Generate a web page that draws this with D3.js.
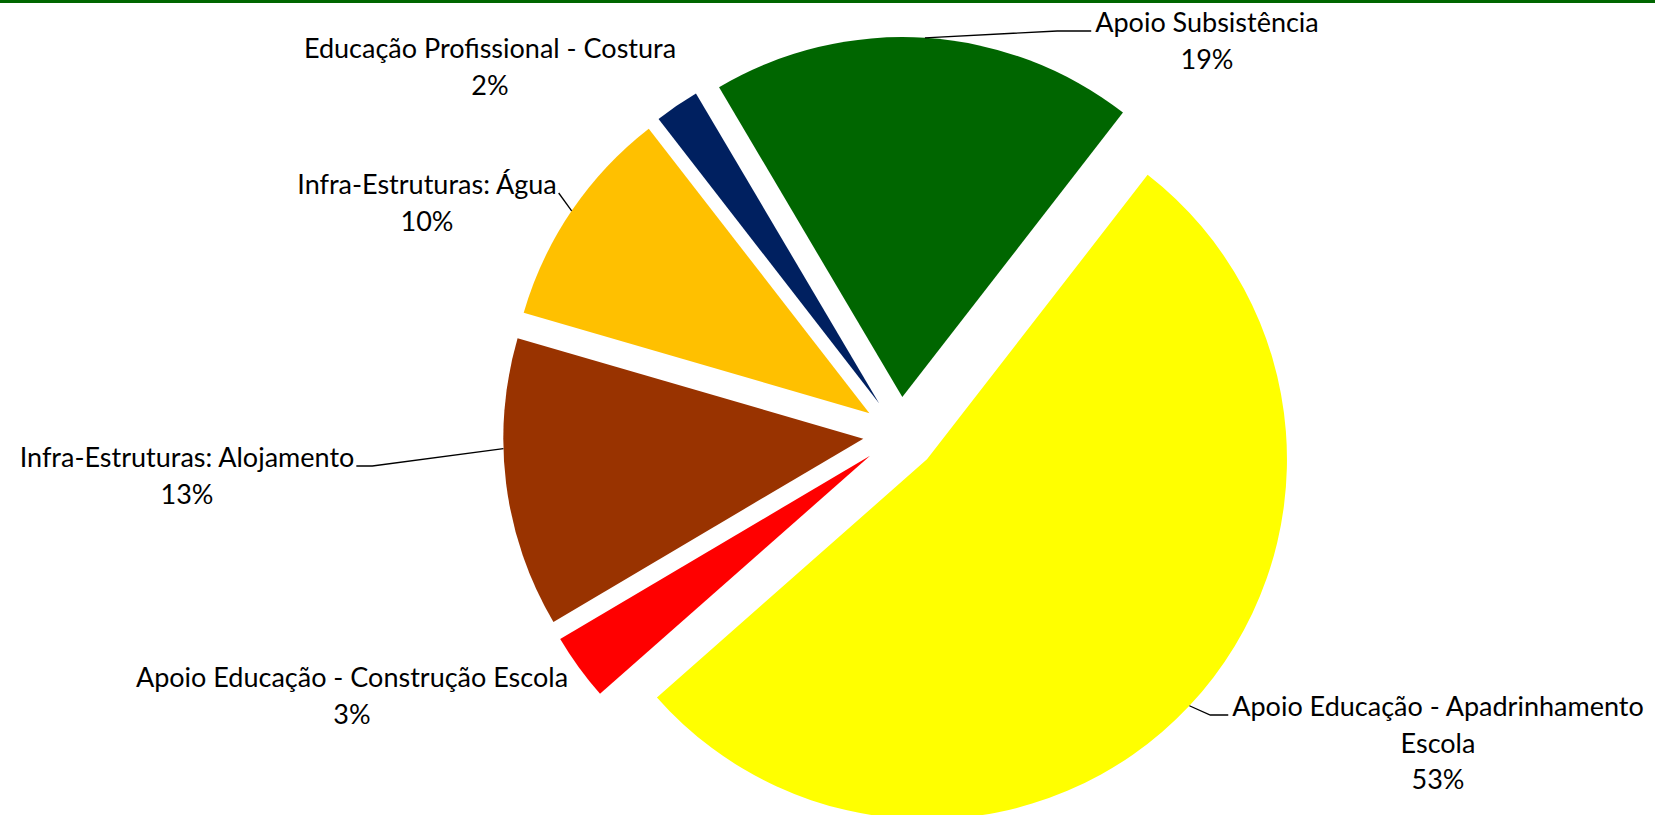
<!DOCTYPE html>
<html>
<head>
<meta charset="utf-8">
<script src="https://cdn.jsdelivr.net/npm/d3@7"></script>
<style>
  html, body { margin: 0; padding: 0; background: #fff; }
  svg { display: block; }
</style>
</head>
<body>
<div class="chart"></div>
<script>

// data, in clockwise order starting from the green slice
var categories = [
    ["Apoio Subsistência"],
    ["Apoio Educação - Apadrinhamento", "Escola"],
    ["Apoio Educação - Construção Escola"],
    ["Infra-Estruturas: Alojamento"],
    ["Infra-Estruturas: Água"],
    ["Educação Profissional - Costura"]
];
var values = [19, 53, 3, 13, 10, 2];
var colours = ["#006600", "#ffff00", "#ff0000", "#993300", "#ffc000", "#002060"];

// label placement relative to the pie centre (x = text centre, y = first baseline)
var labelPos = [[307, -402], [538, 282], [-548, 253], [-713, 33], [-473, -240], [-410, -376]];
var leaderSide = ["left", "left", null, "right", "right", null];
var leaderElbow = [34, 18, 0, 16, 0, 0];
// where the leader meets the slice, as a fraction of the slice's angle
var leaderAt = [0.5, 0.5, 0.5, 0.62, 0.5, 0.5];

var width = 1655;
var height = 815;
var cx = 900, cy = 434;
var radius = 360;
var explode = 37;
var lineGap = 36.5;

var svg = d3.select(".chart").append("svg")
    .attr("width", width)
    .attr("height", height);

// green rule along the top edge
svg.append("rect")
    .attr("x", 0).attr("y", 0)
    .attr("width", width).attr("height", 3)
    .attr("fill", "#006600");

var g = svg.append("g")
    .attr("transform", "translate(" + cx + "," + cy + ")");

var start = -30.6 * Math.PI / 180;
var pie = d3.pie()
    .sort(null)
    .value(function(d) { return d; })
    .startAngle(start)
    .endAngle(start + Math.PI * 2);

var arcs = pie(values);
var total = d3.sum(values);
var pct = d3.format(".0%");

var arc = d3.arc()
    .innerRadius(0)
    .outerRadius(radius);

function polar(a, r) {
    return [Math.sin(a) * r, -Math.cos(a) * r];
}
function mid(d) { return (d.startAngle + d.endAngle) / 2; }

g.selectAll("path.slice")
    .data(arcs)
    .enter().append("path")
    .attr("class", "slice")
    .attr("transform", function(d) { var o = polar(mid(d), explode); return "translate(" + o[0] + "," + o[1] + ")"; })
    .attr("d", arc)
    .attr("fill", function(d, i) { return colours[i]; });

var labels = g.selectAll("text.lbl")
    .data(arcs)
    .enter().append("text")
    .attr("class", "lbl")
    .attr("text-anchor", "middle")
    .attr("font-family", "Lato, 'Open Sans', sans-serif")
    .attr("font-size", 27)
    .attr("fill", "#000");

labels.each(function(d, i) {
    var t = d3.select(this);
    var lines = categories[i].concat([pct(values[i] / total)]);
    lines.forEach(function(s, k) {
        t.append("tspan")
            .attr("x", labelPos[i][0])
            .attr("y", labelPos[i][1] + k * lineGap)
            .text(s);
    });
});

// leader lines from the slice edge to the label
labels.each(function(d, i) {
    if (!leaderSide[i]) return;
    var w = this.firstChild.getComputedTextLength();
    var tx = labelPos[i][0] + (leaderSide[i] === "left" ? -w / 2 - 4 : w / 2 + 2);
    var ty = labelPos[i][1] - 1;
    var o = polar(mid(d), explode);
    var p = polar(d.startAngle + (d.endAngle - d.startAngle) * leaderAt[i], radius);
    var sx = o[0] + p[0], sy = o[1] + p[1];
    var ex = tx + (leaderSide[i] === "left" ? -leaderElbow[i] : leaderElbow[i]);
    g.append("polyline")
        .attr("points", [[sx, sy], [ex, ty], [tx, ty]].map(function(q) { return q.join(","); }).join(" "))
        .attr("fill", "none")
        .attr("stroke", "#000")
        .attr("stroke-width", 1.3);
});

</script>
</body>
</html>
